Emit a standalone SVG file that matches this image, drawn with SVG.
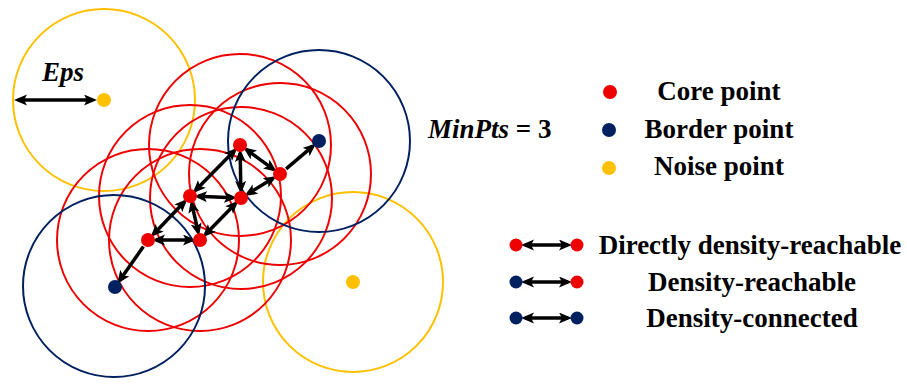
<svg xmlns="http://www.w3.org/2000/svg" width="907" height="385" viewBox="0 0 907 385">
<style>
.bg{fill:#ffffff}
.cr{fill:none;stroke:#ee0000;stroke-width:2}
.cb{fill:none;stroke:#002060;stroke-width:2}
.cn{fill:none;stroke:#ffc000;stroke-width:2}
.pr{fill:#ee0000}
.pb{fill:#002060}
.pn{fill:#ffc000}
.ar{stroke:#000;stroke-width:3.5;fill:none}
.dbl{marker-start:url(#ah);marker-end:url(#ah)}
.one{marker-end:url(#ah)}
.t{font-family:"Liberation Serif","Times New Roman",serif;font-weight:bold;font-size:27px;fill:#000}
.i{font-style:italic}
</style>
<defs>
<marker id="ah" markerUnits="userSpaceOnUse" markerWidth="14" markerHeight="12" refX="9" refY="5.5" orient="auto-start-reverse" viewBox="0 0 14 12">
<path d="M0,0 L13,5.5 L0,11 L3,5.5 z" fill="#000"/>
</marker>
</defs>
<rect class="bg" x="0" y="0" width="907" height="385"/>
<g id="circles">
<circle class="cn" cx="104" cy="100" r="91"/>
<circle class="cn" cx="353" cy="282" r="90"/>
<circle class="cr" cx="240" cy="145" r="91"/>
<circle class="cr" cx="280" cy="174" r="91"/>
<circle class="cr" cx="190" cy="196" r="91"/>
<circle class="cr" cx="241" cy="198" r="91"/>
<circle class="cr" cx="148" cy="240" r="91"/>
<circle class="cr" cx="200" cy="240" r="91"/>
<circle class="cb" cx="319" cy="141" r="91"/>
<circle class="cb" cx="114" cy="286" r="91"/>
</g>
<g id="connectors">
<line class="ar dbl" x1="234.4" y1="150.7" x2="195.6" y2="190.3"/>
<line class="ar dbl" x1="240.2" y1="153" x2="240.8" y2="190"/>
<line class="ar dbl" x1="246.5" y1="149.7" x2="273.5" y2="169.3"/>
<line class="ar one" x1="286.1" y1="168.8" x2="312.9" y2="146.2"/>
<line class="ar dbl" x1="273.2" y1="178.2" x2="247.8" y2="193.8"/>
<line class="ar dbl" x1="198" y1="196.3" x2="233" y2="197.7"/>
<line class="ar dbl" x1="184.5" y1="201.8" x2="153.5" y2="234.2"/>
<line class="ar dbl" x1="191.8" y1="203.8" x2="198.2" y2="232.2"/>
<line class="ar dbl" x1="235.4" y1="203.7" x2="205.6" y2="234.3"/>
<line class="ar dbl" x1="156" y1="240" x2="192" y2="240"/>
<line class="ar one" x1="143.4" y1="246.6" x2="119.6" y2="280.4"/>
<line class="ar dbl" x1="18" y1="100" x2="93" y2="100"/>
<line class="ar dbl" x1="525" y1="245" x2="568" y2="245"/>
<line class="ar dbl" x1="525" y1="282" x2="568" y2="282"/>
<line class="ar dbl" x1="525" y1="318" x2="568" y2="318"/>
</g>
<g id="noise1"><circle class="pn" cx="104" cy="100" r="7"/></g>
<g id="noise2"><circle class="pn" cx="353" cy="282" r="7"/></g>
<g id="coreA"><circle class="pr" cx="240" cy="145" r="7"/></g>
<g id="coreB"><circle class="pr" cx="280" cy="174" r="7"/></g>
<g id="coreC"><circle class="pr" cx="190" cy="196" r="7"/></g>
<g id="coreD"><circle class="pr" cx="241" cy="198" r="7"/></g>
<g id="coreE"><circle class="pr" cx="148" cy="240" r="7"/></g>
<g id="coreF"><circle class="pr" cx="200" cy="240" r="7"/></g>
<g id="border1"><circle class="pb" cx="319" cy="141" r="7"/></g>
<g id="border2"><circle class="pb" cx="115" cy="287" r="7"/></g>
<g id="eps-label"><text class="t i" x="42" y="81" font-size="26">Eps</text></g>
<g id="minpts"><text class="t" x="428" y="138"><tspan class="i">MinPts</tspan> = 3</text></g>
<g id="legend-points">
<circle class="pr" cx="610" cy="92" r="7"/>
<text class="t" x="719" y="100" text-anchor="middle">Core point</text>
<circle class="pb" cx="609" cy="130" r="7"/>
<text class="t" x="719" y="138" text-anchor="middle">Border point</text>
<circle class="pn" cx="609" cy="168" r="7"/>
<text class="t" x="719" y="175" text-anchor="middle">Noise point</text>
</g>
<g id="legend-links">
<circle class="pr" cx="516" cy="245" r="6.5"/>
<circle class="pr" cx="577" cy="245" r="6.5"/>
<text class="t" x="750" y="254" text-anchor="middle">Directly density-reachable</text>
<circle class="pb" cx="516" cy="282" r="6.5"/>
<circle class="pr" cx="577" cy="282" r="6.5"/>
<text class="t" x="752" y="291" text-anchor="middle">Density-reachable</text>
<circle class="pb" cx="516" cy="318" r="6.5"/>
<circle class="pb" cx="577" cy="318" r="6.5"/>
<text class="t" x="752" y="327" text-anchor="middle">Density-connected</text>
</g>
</svg>
